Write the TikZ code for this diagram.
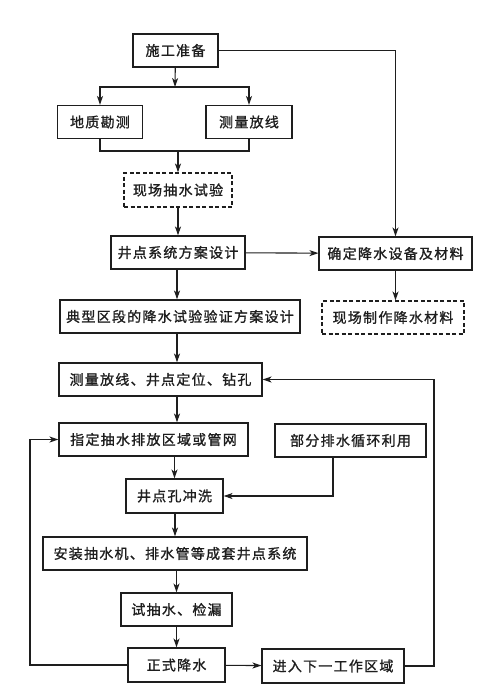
\documentclass[tikz,border=0pt]{standalone}
\usepackage{fontspec}
\usepackage{tikz}
\usetikzlibrary{arrows.meta}
\newfontfamily\cjk[LetterSpace=9,FakeBold=1.2]{Noto Sans CJK SC}
\definecolor{ColLine}{RGB}{30,30,30}
\tikzstyle{StepBox}=[draw=ColLine,line width=1.1bp,minimum height=33bp,inner sep=0pt,
font=\cjk\fontsize{14bp}{16bp}\selectfont,text=ColLine]
\tikzstyle{TrialBox}=[StepBox,dash pattern=on 4bp off 2.5bp]
\tikzstyle{Wire}=[ColLine,line width=1.1bp]
\tikzstyle{Flow}=[Wire,-{Stealth[length=9bp,width=6bp,inset=2.5bp]}]
\begin{document}
\begin{tikzpicture}[x=1bp,y=-1bp]
        \useasboundingbox(0,0)rectangle(500,700);
        \node[StepBox,minimum width=85bp](Prep)at(175.5,50.5){施工准备};
        \node[StepBox,minimum width=85bp](Geo)at(100,122){地质勘测};
        \node[StepBox,minimum width=86bp](Survey)at(249,122){测量放线};
        \node[TrialBox,minimum width=108bp,minimum height=34bp](PumpTest)at(178,190){现场抽水试验};
        \node[StepBox,minimum width=134bp](Design)at(178,252.5){井点系统方案设计};
        \node[StepBox,minimum width=153bp](Equip)at(395.5,253.5){确定降水设备及材料};
        \node[StepBox,minimum width=240bp](Verify)at(180,316.5){典型区段的降水试验验证方案设计};
        \node[TrialBox,minimum width=142bp](Make)at(393,317.5){现场制作降水材料};
        \node[StepBox,minimum width=203bp](Locate)at(160.5,379.5){测量放线、井点定位、钻孔};
        \node[StepBox,minimum width=189bp](Drain)at(153.5,439.5){指定抽水排放区域或管网};
        \node[StepBox,minimum width=151bp](Reuse)at(350.5,440.5){部分排水循环利用};
        \node[StepBox,minimum width=97bp,minimum height=34bp](Flush)at(174.5,496){井点孔冲洗};
        \node[StepBox,minimum width=264bp](Install)at(175,553.5){安装抽水机、排水管等成套井点系统};
        \node[StepBox,minimum width=111bp](Trial)at(176.5,609.5){试抽水、检漏};
        \node[StepBox,minimum width=97bp,minimum height=34bp](Dewater)at(176.5,665){正式降水};
        \node[StepBox,minimum width=142bp,minimum height=34bp](Next)at(333,666){进入下一工作区域};
        \coordinate(SplitA)at(175,87);
        \coordinate(MergeA)at(178,151);
        \coordinate(Trunk)at(177,0);
        \coordinate(ReuseTap)at(333,457);
        \coordinate(LoopR)at(434,0);
        \coordinate(LoopL)at(30,0);
        \draw[Flow](Prep)--(SplitA);
        \draw[Flow](SplitA)-|(Geo);
        \draw[Flow](SplitA)-|(Survey);
        \draw[Wire](Geo)|-(MergeA)-|(Survey);
        \draw[Flow](MergeA)--(PumpTest);
        \draw[Flow](PumpTest)--(Design);
        \draw[Flow](Prep)-|(Equip);
        \draw[Flow](Design)--(Equip);
        \draw[Flow](Equip.south)--(Equip.south|-Make.north);
        \draw[Flow](Design.south-|Trunk)--(Verify.north-|Trunk);
        \draw[Flow](Verify.south-|Trunk)--(Locate.north-|Trunk);
        \draw[Flow](Locate.south-|Trunk)--(Drain.north-|Trunk);
        \draw[Flow](Drain.south-|Flush)--(Flush);
        \draw[Flow](ReuseTap)|-(Flush);
        \draw[Flow](Flush.south-|Install)--(Install);
        \draw[Flow](Install.south-|Trial)--(Trial);
        \draw[Flow](Trial)--(Dewater);
        \draw[Flow](Dewater)--(Next);
        \draw[Flow](Next)-|(LoopR|-Locate.east)--(Locate);
        \draw[Flow](Dewater)-|(LoopL|-Drain.west)--(Drain);
    \end{tikzpicture}
\end{document}
